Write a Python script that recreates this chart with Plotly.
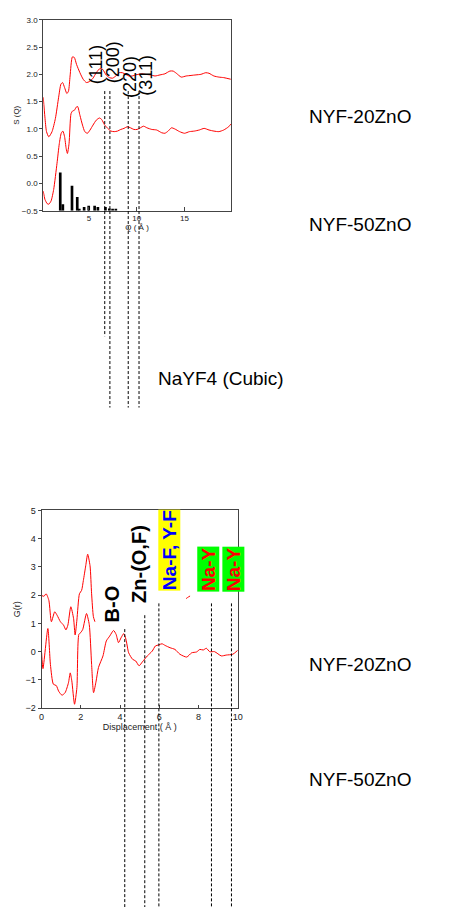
import plotly.graph_objects as go

# ---------------- data ----------------
# S(Q) NYF-20ZnO (offset curve)
q_20 = [0.21,0.38,0.55,0.79,1.13,1.48,1.82,2.06,2.23,2.44,2.68,2.85,3.02,3.26,3.46,3.70,4.05,4.39,4.73,5.07,
        5.42,5.76,6.17,6.44,6.79,7.13,7.47,7.81,8.16,8.50,8.84,9.18,9.53,9.87,10.21,10.55,10.90,11.41,11.92,
        12.44,12.95,13.47,13.81,14.15,14.66,15.18,15.69,16.20,16.72,17.23,17.57,18.08,18.60,19.11,19.86]
s_20 = [1.58,1.22,0.95,0.855,0.95,1.19,1.58,1.82,1.85,1.76,1.65,1.69,1.97,2.32,2.31,2.18,2.03,1.91,1.85,1.87,
        1.93,2.03,2.11,2.09,1.99,1.94,1.93,1.97,2.03,2.03,2.00,1.97,1.97,1.99,2.00,2.01,2.00,1.99,1.97,
        1.99,2.01,2.06,2.06,2.02,1.95,1.97,1.98,1.99,2.00,2.03,2.02,1.97,1.95,1.94,1.91]

# S(Q) NYF-50ZnO
q_50 = [0.21,0.38,0.62,0.79,1.03,1.30,1.65,1.89,2.09,2.26,2.44,2.61,2.74,2.91,3.12,3.29,3.46,3.67,3.81,4.05,
        4.32,4.56,4.83,5.11,5.42,5.76,6.10,6.34,6.61,6.96,7.30,7.64,7.98,8.33,8.67,9.01,9.35,9.70,10.04,
        10.38,10.72,11.07,11.58,12.09,12.61,12.95,13.29,13.64,13.98,14.49,15.00,15.52,16.03,16.55,17.06,
        17.57,18.09,18.60,19.11,19.63,19.86]
s_50 = [-0.14,-0.29,-0.37,-0.38,-0.32,-0.11,0.37,0.73,0.92,0.96,0.86,0.64,0.55,0.73,1.28,1.33,1.34,1.40,1.41,1.25,
        1.07,0.95,0.92,0.98,1.07,1.16,1.20,1.17,1.08,1.01,0.96,0.95,0.96,0.99,1.01,1.04,1.02,0.99,0.99,
        1.02,1.05,1.02,0.99,0.98,0.93,0.92,0.96,1.02,1.00,0.95,0.92,0.95,0.96,0.98,1.01,
        0.98,0.96,0.95,0.98,1.04,1.09]

# NaYF4 (cubic) reference pattern
bar_q = [1.99,2.26,3.22,3.77,3.98,4.49,4.97,5.59,5.93,6.72,7.13,7.47,7.81]
bar_top = [0.20,-0.38,-0.04,-0.25,-0.47,-0.43,-0.41,-0.41,-0.43,-0.43,-0.46,-0.47,-0.48]
bar_base = -0.5

# reflections
hkl_labels = ["(111)", "(200)", "(220)", "(311)"]
hkl_q = [6.65, 7.19, 9.11, 10.24]
hkl_label_q = [5.70, 7.60, 9.24, 10.99]
hkl_label_s = [2.18, 2.22, 1.96, 1.98]

# G(r) NYF-20ZnO (offset; partly hidden)
r_20 = [0.00,0.12,0.23,0.37,0.50,0.67,0.79,0.96,1.12,1.24,1.34,1.49,1.63,1.71,1.80,1.93,2.04,2.13,2.25,2.35,
        2.47,2.55,2.64,2.72,None,7.37,7.47,7.57]
g_20 = [1.99,1.96,2.05,1.82,1.06,1.41,1.29,1.06,0.94,0.77,0.94,1.59,1.18,0.59,1.12,2.05,2.17,2.52,3.04,3.45,
        3.04,2.05,1.24,1.06,None,1.88,1.93,1.97]

# G(r) NYF-50ZnO
r_50 = [0.00,0.07,0.32,0.45,0.60,0.75,0.87,1.04,1.20,1.37,1.46,1.54,1.68,1.80,1.90,2.00,2.10,2.29,2.43,2.55,
        2.65,2.78,2.90,3.13,3.30,3.47,3.67,3.80,3.92,4.05,4.19,4.30,4.44,4.64,4.80,4.97,5.14,5.39,5.64,
        5.80,5.97,6.14,6.30,6.55,6.80,7.05,7.40,7.65,7.90,8.07,8.24,8.40,8.57,8.82,9.16,9.41,9.75,10.0]
g_50 = [-0.03,-0.60,0.82,-0.45,-1.15,-1.20,-1.40,-1.54,-1.45,-1.10,-0.75,-1.03,-1.86,-1.27,0.61,0.68,0.79,1.35,0.96,-0.45,
        -1.45,-1.04,-0.56,-0.15,0.38,0.55,0.75,0.61,0.32,0.49,0.64,0.44,-0.04,-0.27,-0.33,-0.50,-0.36,-0.15,0.02,
        0.20,0.24,0.28,0.22,0.14,0.08,-0.09,-0.19,-0.04,-0.01,0.08,0.06,0.12,0.00,0.00,-0.15,-0.12,-0.09,0.05]

# bond distances
bond_r = [4.24, 5.26, 5.98, 8.66, 9.68]
bond_labels = ["B-O", "Zn-(O,F)", "Na-F, Y-F", "Na-Y", "Na-Y"]
bond_label_r = [3.60, 4.96, 6.52, 8.48, 9.76]
bond_label_g = [1.68, 3.10, 3.61, 2.92, 2.92]

sample_labels = ["NYF-20ZnO", "NYF-50ZnO"]

# ---------------- figure ----------------
FONT = "Arial, Liberation Sans, sans-serif"
RED = "#ff0000"
fig = go.Figure()

fig.add_trace(go.Scatter(x=q_20, y=s_20, mode="lines", line=dict(color=RED, width=1, shape="spline", smoothing=0.6),
                         xaxis="x", yaxis="y"))
fig.add_trace(go.Scatter(x=q_50, y=s_50, mode="lines", line=dict(color=RED, width=1, shape="spline", smoothing=0.6),
                         xaxis="x", yaxis="y"))
fig.add_trace(go.Bar(x=bar_q, y=[t - bar_base for t in bar_top], base=bar_base, width=0.28,
                     marker=dict(color="black", line=dict(width=0)), xaxis="x", yaxis="y"))

fig.add_trace(go.Scatter(x=r_20, y=g_20, mode="lines", connectgaps=False,
                         line=dict(color=RED, width=1, shape="spline", smoothing=0.6), xaxis="x2", yaxis="y2"))
fig.add_trace(go.Scatter(x=r_50, y=g_50, mode="lines",
                         line=dict(color=RED, width=1, shape="spline", smoothing=0.6), xaxis="x2", yaxis="y2"))

axis_common = dict(showline=True, mirror=True, linecolor="#444", linewidth=1, showgrid=False, zeroline=False,
                   tickcolor="#444", tickwidth=1)

fig.update_layout(
    width=449, height=912, autosize=False,
    margin=dict(l=0, r=0, t=0, b=0),
    paper_bgcolor="white", plot_bgcolor="white",
    showlegend=False,
    font=dict(family=FONT, color="#222"),
    xaxis=dict(domain=[0.0913, 0.5167], range=[0.21, 19.86], tickvals=[5, 10, 15], ticks="inside", ticklen=4,
               tickfont=dict(size=8), title=dict(text="Q ( Å )", font=dict(size=8), standoff=0),
               anchor="y", **axis_common),
    yaxis=dict(domain=[0.7719, 0.9836], range=[-0.5, 3.0], dtick=0.5, tick0=0, tickformat=".1f", ticks="outside",
               ticklen=3, tickfont=dict(size=8), title=dict(text="S (Q)", font=dict(size=8), standoff=1),
               anchor="x", **axis_common),
    xaxis2=dict(domain=[0.0875, 0.5323], range=[0, 10], dtick=2, ticks="inside", ticklen=3,
                tickfont=dict(size=9), title=dict(text="Displacement ( Å )", font=dict(size=9), standoff=1),
                anchor="y2", **axis_common),
    yaxis2=dict(domain=[0.2204, 0.4397], range=[-2, 5], dtick=1, ticks="outside", ticklen=3,
                tickfont=dict(size=9), title=dict(text="G(r)", font=dict(size=9), standoff=3),
                anchor="x2", **axis_common),
)

dash = dict(color="black", width=1, dash="3px,2px")
# top dashed reflection lines
top_ends = [0.6327, 0.5537, 0.5537, 0.5537]
for qv, y_end in zip(hkl_q, top_ends):
    fig.add_shape(type="line", xref="x", yref="paper", x0=qv, x1=qv, y0=0.9046, y1=y_end, line=dash, layer="above")
for lab, xq, ys in zip(hkl_labels, hkl_label_q, hkl_label_s):
    fig.add_annotation(x=xq, y=ys, xref="x", yref="y", text=lab, textangle=-90, showarrow=False,
                       xanchor="center", yanchor="middle",
                       font=dict(family=FONT, size=18, color="black"))

# bottom dashed bond lines
bot_starts = [0.3081, 0.3235, 0.3366, 0.3366, 0.3366]
for rv, y_start in zip(bond_r, bot_starts):
    fig.add_shape(type="line", xref="x2", yref="paper", x0=rv, x1=rv, y0=y_start, y1=0.0, line=dash, layer="above")

bond_styles = [
    dict(color="black", bg=None, size=20),
    dict(color="black", bg=None, size=20),
    dict(color="#0000ff", bg="#ffff00", size=19),
    dict(color="#ff0000", bg="#00ff00", size=19),
    dict(color="#ff0000", bg="#00ff00", size=19),
]
for lab, rx, gy, st in zip(bond_labels, bond_label_r, bond_label_g, bond_styles):
    kw = dict(bgcolor=st["bg"]) if st["bg"] else {}
    fig.add_annotation(x=rx, y=gy, xref="x2", yref="y2", text=lab, textangle=-90, showarrow=False,
                       xanchor="center", yanchor="middle",
                       font=dict(family=FONT, size=st["size"], color=st["color"], weight="bold"),
                       borderpad=0, **kw)

# sample labels
for lab, yp in zip(sample_labels, [0.8761, 0.7566]):
    fig.add_annotation(x=0.8085, y=yp, xref="paper", yref="paper", text=lab, showarrow=False,
                       xanchor="center", yanchor="middle",
                       font=dict(family=FONT, size=19, color="black"))
for lab, yp in zip(sample_labels, [0.2686, 0.1414]):
    fig.add_annotation(x=0.8085, y=yp, xref="paper", yref="paper", text=lab, showarrow=False,
                       xanchor="center", yanchor="middle",
                       font=dict(family=FONT, size=19, color="black"))
fig.add_annotation(x=0.4944, y=0.5855, xref="paper", yref="paper", text="NaYF4 (Cubic)", showarrow=False,
                   xanchor="center", yanchor="middle",
                   font=dict(family=FONT, size=19, color="black"))

fig.write_html("out.html")
